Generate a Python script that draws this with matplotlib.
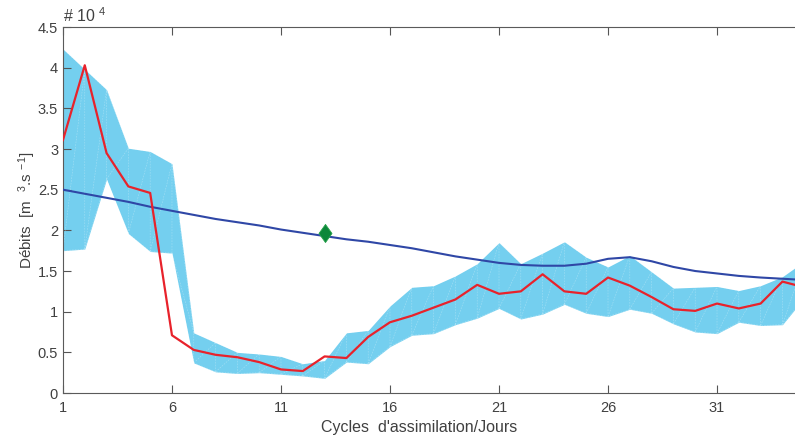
import numpy as np
import matplotlib
matplotlib.use("Agg")
import matplotlib.pyplot as plt
import matplotlib.tri as mtri

plt.rcParams['font.family'] = ['Liberation Sans', 'DejaVu Sans']
plt.rcParams['mathtext.default'] = 'regular'

# assimilation cycles (days) and discharges in units of 1e4 m3/s
cycles = np.arange(1, 36)
analyse = [3.11, 4.03, 2.95, 2.54, 2.46, 0.71, 0.53, 0.47, 0.44, 0.38,
           0.29, 0.27, 0.45, 0.43, 0.69, 0.87, 0.95, 1.05, 1.15, 1.33,
           1.22, 1.25, 1.46, 1.25, 1.22, 1.42, 1.32, 1.18, 1.03, 1.01,
           1.10, 1.04, 1.10, 1.37, 1.30]
env_haut = [4.23, 3.98, 3.73, 3.01, 2.97, 2.82, 0.74, 0.62, 0.50, 0.48,
            0.45, 0.36, 0.40, 0.74, 0.77, 1.07, 1.30, 1.32, 1.44, 1.59,
            1.85, 1.59, 1.72, 1.86, 1.67, 1.55, 1.69, 1.49, 1.29, 1.30,
            1.31, 1.26, 1.32, 1.43, 1.62]
env_bas = [1.75, 1.77, 2.63, 1.96, 1.74, 1.72, 0.37, 0.26, 0.24, 0.25,
           0.23, 0.21, 0.18, 0.38, 0.36, 0.57, 0.71, 0.73, 0.84, 0.92,
           1.04, 0.91, 0.97, 1.09, 0.98, 0.94, 1.03, 0.98, 0.85, 0.75,
           0.73, 0.87, 0.83, 0.84, 1.17]
ebauche = [2.50, 2.45, 2.40, 2.35, 2.29, 2.24, 2.19, 2.14, 2.10, 2.06,
           2.01, 1.97, 1.93, 1.89, 1.86, 1.82, 1.78, 1.73, 1.68, 1.64,
           1.60, 1.575, 1.565, 1.565, 1.59, 1.65, 1.67, 1.62, 1.55, 1.50,
           1.47, 1.44, 1.42, 1.405, 1.39]
obs_x = [13]
obs_y = [1.97]

fig = plt.figure(figsize=(7.95, 4.38), dpi=100)
ax = fig.add_axes([0.0792, 0.1027, 0.9324, 0.8356])

ax.fill_between(cycles, env_bas, env_haut, color='#74CFEF', lw=0, zorder=1)

# faint white triangulation of the envelope, as in the matlab fill
n = len(cycles)
px = np.concatenate([cycles, cycles])
py = np.concatenate([env_haut, env_bas])
tris = []
for i in range(n - 1):
    tris.append([i, n + i, i + 1])
    tris.append([i + 1, n + i, n + i + 1])
tri = mtri.Triangulation(px, py, tris)
ax.triplot(tri, color='white', lw=0.4, alpha=0.35, ls=(0, (3, 2)), zorder=2)

ax.plot(cycles, ebauche, color='#2F47A6', lw=1.5, zorder=3)
ax.plot(cycles, analyse, color='#E8222B', lw=1.6, zorder=4)

# matlab-like diamond, taller than wide
losange = [(0, 1), (0.72, 0), (0, -1), (-0.72, 0), (0, 1)]
ax.plot(obs_x, obs_y, marker=losange, ms=13, color='#0C873A',
        mec='#27A24A', mew=0.6, ls='none', zorder=5)

ax.set_xlim(1, 35)
ax.set_ylim(0, 4.5)
ax.set_xticks(np.arange(1, 36, 5))
ax.set_yticks(np.arange(0, 4.6, 0.5))
ax.set_yticklabels(['0', '0.5', '1', '1.5', '2', '2.5', '3', '3.5', '4', '4.5'])
ax.tick_params(direction='in', top=True, right=False, length=6,
               colors='#555555', labelsize=10.5, labelcolor='#404040')
ax.tick_params(axis='x', pad=6)
for s in ['left', 'bottom', 'top']:
    ax.spines[s].set_color('#5a5a5a')
    ax.spines[s].set_linewidth(0.8)
ax.spines['right'].set_visible(False)

ax.set_xlabel("Cycles  d'assimilation/Jours", fontsize=11.5, color='#404040')
ax.xaxis.set_label_coords(0.48, -0.075)
ax.set_ylabel('Débits  [m  $^{3}$.s $^{-1}$]', fontsize=11, color='#404040', labelpad=0)
ax.text(0.0, 1.014, '# 10 $^{4}$', transform=ax.transAxes, fontsize=11.5,
        color='#404040', ha='left', va='baseline')

fig.savefig('out.png', dpi=100)
